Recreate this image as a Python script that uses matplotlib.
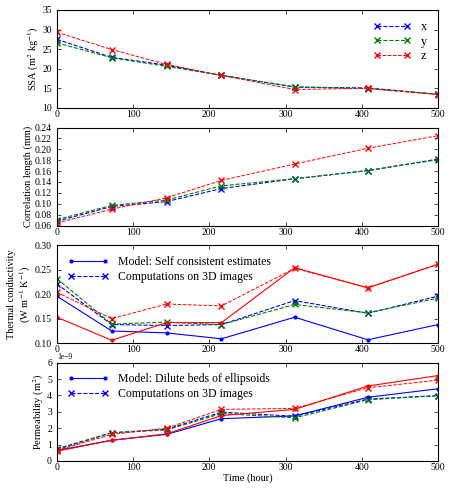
from matplotlib import pyplot as plt
import numpy as np

plt.rcParams['font.family'] = ['Liberation Serif', 'DejaVu Serif']
plt.rcParams['mathtext.fontset'] = 'stix'
plt.rcParams['xtick.direction'] = 'in'
plt.rcParams['ytick.direction'] = 'in'
plt.rcParams['xtick.top'] = True
plt.rcParams['ytick.right'] = True
plt.rcParams['font.size'] = 7
plt.rcParams['axes.linewidth'] = 0.8

time = [0, 72, 144, 216, 312, 408, 500]

# specific surface area (m2/kg)
ssa_x = [27.5, 22.9, 20.9, 18.3, 15.3, 15.1, 13.5]
ssa_y = [26.6, 22.8, 20.6, 18.3, 15.4, 14.9, 13.5]
ssa_z = [29.3, 24.9, 21.1, 18.3, 14.7, 15.0, 13.4]

# correlation length (mm)
cl_x = [0.068, 0.095, 0.104, 0.128, 0.146, 0.161, 0.182]
cl_y = [0.071, 0.097, 0.107, 0.133, 0.146, 0.161, 0.181]
cl_z = [0.065, 0.090, 0.111, 0.143, 0.173, 0.202, 0.225]

# thermal conductivity
tc_model_x = [0.196, 0.125, 0.121, 0.109, 0.153, 0.107, 0.138]
tc_model_z = [0.153, 0.106, 0.142, 0.142, 0.254, 0.213, 0.261]
tc_img_x = [0.221, 0.138, 0.136, 0.138, 0.187, 0.161, 0.196]
tc_img_y = [0.232, 0.139, 0.143, 0.138, 0.179, 0.162, 0.192]
tc_img_z = [0.204, 0.150, 0.180, 0.176, 0.253, 0.213, 0.261]

# permeability (1e-9 m2)
k_model_x = [0.63, 1.26, 1.62, 2.58, 2.75, 3.89, 4.41]
k_model_z = [0.59, 1.26, 1.65, 2.77, 3.15, 4.58, 5.22]
k_img_x = [0.74, 1.72, 1.93, 2.98, 2.73, 3.78, 3.99]
k_img_y = [0.67, 1.72, 1.89, 2.90, 2.63, 3.74, 3.99]
k_img_z = [0.63, 1.62, 2.00, 3.15, 3.21, 4.47, 4.94]

fig, axes = plt.subplots(4, 1, figsize=(4.62, 4.95), dpi=100)
fig.subplots_adjust(left=0.123, right=0.948, top=0.980, bottom=0.069, hspace=0.2)
ax1, ax2, ax3, ax4 = axes

ax1.plot(time, ssa_x, 'bx--', lw=0.8, ms=4, label='x')
ax1.plot(time, ssa_y, 'gx--', lw=0.8, ms=4, label='y')
ax1.plot(time, ssa_z, 'rx--', lw=0.7, ms=4, label='z')
ax1.set_ylim(10, 35)
ax1.set_ylabel('SSA (m$^2$ kg$^{-1}$)', fontsize=7.5, labelpad=1)
ax1.legend(loc='upper right', frameon=False, numpoints=2, fontsize=9,
           handlelength=3, labelspacing=0.2)

ax2.plot(time, cl_x, 'bx--', lw=0.8, ms=4)
ax2.plot(time, cl_y, 'gx--', lw=0.8, ms=4)
ax2.plot(time, cl_z, 'rx--', lw=0.7, ms=4)
ax2.set_ylim(0.06, 0.24)
ax2.set_yticks(np.arange(0.06, 0.2401, 0.02))
ax2.set_ylabel('Correlation length (mm)', fontsize=7.5, labelpad=1)

ax3.plot(time, tc_model_x, 'b.-', lw=0.8, ms=4,
         label='Model: Self consistent estimates')
ax3.plot(time, tc_img_x, 'bx--', lw=0.8, ms=4,
         label='Computations on 3D images')
ax3.plot(time, tc_img_y, 'gx--', lw=0.8, ms=4)
ax3.plot(time, tc_img_z, 'rx--', lw=0.7, ms=4)
ax3.plot(time, tc_model_z, 'r.-', lw=0.8, ms=4)
ax3.set_ylim(0.10, 0.30)
ax3.set_yticks([0.10, 0.15, 0.20, 0.25, 0.30])
ax3.set_ylabel('Thermal conductivity\n(W m$^{-1}$ K$^{-1}$)', fontsize=7.5,
               labelpad=1)
ax3.legend(loc='upper left', frameon=False, numpoints=2, fontsize=8.5,
           handlelength=3.5, labelspacing=0.25)

k = lambda v: np.array(v) * 1e-9
ax4.plot(time, k(k_model_x), 'b.-', lw=0.8, ms=4,
         label='Model: Dilute beds of ellipsoids')
ax4.plot(time, k(k_img_x), 'bx--', lw=0.8, ms=4,
         label='Computations on 3D images')
ax4.plot(time, k(k_img_y), 'gx--', lw=0.8, ms=4)
ax4.plot(time, k(k_img_z), 'rx--', lw=0.7, ms=4)
ax4.plot(time, k(k_model_z), 'r.-', lw=0.8, ms=4)
ax4.set_ylim(0, 6e-9)
ax4.set_yticks(k(range(7)))
ax4.set_ylabel('Permeability (m$^2$)', fontsize=7.5, labelpad=1)
ax4.set_xlabel('Time (hour)', fontsize=7.5, labelpad=1)
ax4.legend(loc='upper left', frameon=False, numpoints=2, fontsize=8.5,
           handlelength=3.5, labelspacing=0.25)
ax4.yaxis.get_offset_text().set_fontsize(5.5)

for ax in axes:
    ax.set_xlim(0, 500)
    ax.set_xticks([0, 100, 200, 300, 400, 500])
    ax.tick_params(length=3, width=0.5)
    ax.tick_params(axis='x', pad=1.5)

fig.savefig('out.png')
